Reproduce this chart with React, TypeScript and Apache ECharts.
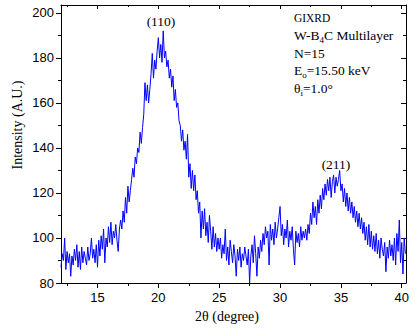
import React, { useEffect, useRef } from "react";
import * as echarts from "echarts";

// Scan definition (2θ in degrees)
const startAngle = 12.0;
const angleStep = 0.1;

// Intensity (A.U.), one value per 0.1°
const seg12to17 = [
  87, 93, 90, 100, 86, 94, 89, 93, 83, 92,
  88, 95, 90, 97, 87, 94, 86, 96, 89, 94,
  91, 88, 96, 90, 93, 100, 91, 95, 89, 97,
  87, 99, 92, 101, 95, 104, 89, 100, 96, 105,
  98, 107, 97, 103, 100, 106, 99, 94, 104, 108,
];
const seg17to22 = [
  104, 112, 107, 118, 111, 123, 116, 121, 126, 131,
  127, 136, 133, 140, 138, 147, 142, 149, 155, 169,
  161, 168, 160, 166, 173, 182, 171, 179, 175, 183,
  189, 180, 186, 178, 192, 180, 183, 176, 179, 171,
  175, 167, 172, 161, 166, 158, 160, 152, 150, 143,
];
const seg22to27 = [
  148, 139, 143, 135, 146, 127, 133, 122, 130, 121,
  128, 117, 121, 111, 116, 100, 112, 104, 113, 101,
  107, 98, 110, 103, 95, 105, 96, 102, 94, 100,
  95, 100, 91, 97, 93, 104, 90, 96, 88, 99,
  94, 89, 97, 92, 83, 95, 90, 96, 87, 93,
];
const seg27to32 = [
  90, 96, 92, 88, 95, 80, 92, 97, 89, 101,
  93, 83, 96, 91, 99, 94, 102, 97, 105, 100,
  103, 88, 106, 99, 104, 97, 107, 100, 104, 109,
  114, 101, 106, 97, 104, 100, 108, 96, 103, 99,
  105, 95, 88, 103, 98, 102, 96, 105, 99, 103,
];
const seg32to37 = [
  100, 104, 99, 106, 102, 111, 106, 116, 109, 114,
  106, 117, 111, 119, 113, 122, 117, 124, 119, 126,
  121, 127, 118, 125, 128, 120, 127, 123, 126, 130,
  121, 124, 116, 122, 114, 120, 112, 118, 111, 116,
  109, 114, 107, 112, 105, 111, 104, 109, 102, 107,
];
const seg37to40 = [
  99, 105, 97, 106, 96, 103, 95, 101, 94, 102,
  93, 99, 91, 100, 95, 92, 98, 85, 96, 91,
  99, 92, 97, 90, 100, 88, 102, 94, 108, 89,
  98, 84, 100, 93,
];

const xMin = 12;
const xMax = 40.35;
const yMin = 80;
const yMax = 203.5;
const xMajorTicks = [15, 20, 25, 30, 35, 40];
const xMinorTicks = [12.5, 17.5, 22.5, 27.5, 32.5, 37.5];
const yMajorTicks = [80, 100, 120, 140, 160, 180, 200];
const yMinorTicks = [90, 110, 130, 150, 170, 190];

const SERIF = '"Liberation Serif", "Times New Roman", serif';
const SANS = '"Liberation Sans", Arial, sans-serif';

export default function App() {
  const ref = useRef<HTMLDivElement>(null);

  useEffect(() => {
    if (!ref.current) return;
    const chart = echarts.init(ref.current, null, { renderer: "svg" });

    const intensity = [
      ...seg12to17,
      ...seg17to22,
      ...seg22to27,
      ...seg27to32,
      ...seg32to37,
      ...seg37to40,
    ];
    const data = intensity.map((v, i) => [
      Math.round((startAngle + i * angleStep) * 100) / 100,
      v,
    ]);

    const canvas = document.createElement("canvas");
    const ctx = canvas.getContext("2d")!;
    const measure = (t: string, size: number) => {
      ctx.font = `${size}px "Liberation Serif"`;
      return ctx.measureText(t).width;
    };

    const infoX = 294;
    const infoSize = 13.5;
    const subSize = 9;
    const rows = [17.5, 35.5, 53, 70.5, 88];

    const txt = (
      x: number,
      y: number,
      text: string,
      size: number,
      extra: any = {}
    ) => ({
      type: "text",
      x,
      y,
      silent: true,
      ...extra,
      style: {
        text,
        fontSize: size,
        fontFamily: SERIF,
        fill: "#000",
        align: extra.align || "left",
        verticalAlign: "middle",
      },
    });

    const withSub = (y: number, main: string, sub: string, rest: string) => {
      const w1 = measure(main, infoSize);
      const w2 = measure(sub, subSize);
      return [
        txt(infoX, y, main, infoSize),
        txt(infoX + w1, y + 4.5, sub, subSize),
        txt(infoX + w1 + w2, y, rest, infoSize),
      ];
    };

    const graphic: any[] = [
      {
        type: "text",
        x: 17,
        y: 125,
        rotation: Math.PI / 2,
        silent: true,
        style: {
          text: "Intensity (A.U.)",
          fontSize: 14,
          fontFamily: SERIF,
          fill: "#000",
          align: "center",
          verticalAlign: "middle",
        },
      },
      txt(227, 316, "2θ (degree)", 14, { align: "center" }),
      txt(161, 21, "(110)", 13.5, { align: "center" }),
      txt(336, 164, "(211)", 13.5, { align: "center" }),
      txt(infoX, rows[0], "GIXRD", infoSize, { scaleX: 0.85 }),
      ...withSub(rows[1], "W-B", "4", "C Multilayer"),
      txt(infoX, rows[2], "N=15", infoSize),
      ...withSub(rows[3], "E", "o", "=15.50 keV"),
      ...withSub(rows[4], "θ", "i", "=1.0°"),
    ];

    const lineStyle = { color: "#000", width: 1 };
    const noSplit = { show: false };

    const option: any = {
      animation: false,
      grid: { left: 61, right: 9, top: 5, bottom: 50, containLabel: false },
      xAxis: [
        {
          type: "value",
          position: "bottom",
          min: xMin,
          max: xMax,
          axisLine: { show: true, onZero: false, lineStyle },
          axisTick: {
            show: true,
            inside: false,
            length: 5,
            customValues: xMajorTicks,
            lineStyle,
          },
          axisLabel: {
            show: true,
            customValues: xMajorTicks,
            margin: 8,
            fontSize: 13,
            fontFamily: SANS,
            color: "#000",
          },
          splitLine: noSplit,
        },
        {
          type: "value",
          position: "bottom",
          min: xMin,
          max: xMax,
          axisLine: { show: false, onZero: false },
          axisTick: {
            show: true,
            inside: false,
            length: 3,
            customValues: xMinorTicks,
            lineStyle,
          },
          axisLabel: { show: false },
          splitLine: noSplit,
        },
        {
          type: "value",
          position: "top",
          min: xMin,
          max: xMax,
          axisLine: { show: true, onZero: false, lineStyle },
          axisTick: {
            show: true,
            inside: true,
            length: 4,
            customValues: xMajorTicks,
            lineStyle,
          },
          axisLabel: { show: false },
          splitLine: noSplit,
        },
        {
          type: "value",
          position: "top",
          min: xMin,
          max: xMax,
          axisLine: { show: false, onZero: false },
          axisTick: {
            show: true,
            inside: true,
            length: 2,
            customValues: xMinorTicks,
            lineStyle,
          },
          axisLabel: { show: false },
          splitLine: noSplit,
        },
      ],
      yAxis: [
        {
          type: "value",
          position: "left",
          min: yMin,
          max: yMax,
          axisLine: { show: true, onZero: false, lineStyle },
          axisTick: {
            show: true,
            inside: false,
            length: 5,
            customValues: yMajorTicks,
            lineStyle,
          },
          axisLabel: {
            show: true,
            customValues: yMajorTicks,
            margin: 7,
            fontSize: 13,
            fontFamily: SANS,
            color: "#000",
          },
          splitLine: noSplit,
        },
        {
          type: "value",
          position: "left",
          min: yMin,
          max: yMax,
          axisLine: { show: false, onZero: false },
          axisTick: {
            show: true,
            inside: false,
            length: 3,
            customValues: yMinorTicks,
            lineStyle,
          },
          axisLabel: { show: false },
          splitLine: noSplit,
        },
        {
          type: "value",
          position: "right",
          min: yMin,
          max: yMax,
          axisLine: { show: true, onZero: false, lineStyle },
          axisTick: {
            show: true,
            inside: true,
            length: 5,
            customValues: yMajorTicks,
            lineStyle,
          },
          axisLabel: { show: false },
          splitLine: noSplit,
        },
        {
          type: "value",
          position: "right",
          min: yMin,
          max: yMax,
          axisLine: { show: false, onZero: false },
          axisTick: {
            show: true,
            inside: true,
            length: 3,
            customValues: yMinorTicks,
            lineStyle,
          },
          axisLabel: { show: false },
          splitLine: noSplit,
        },
      ],
      series: [
        {
          type: "line",
          xAxisIndex: 0,
          yAxisIndex: 0,
          data,
          showSymbol: false,
          symbol: "none",
          lineStyle: { color: "#0000ff", width: 1 },
          clip: true,
          silent: true,
        },
      ],
      graphic,
    };

    chart.setOption(option);
    return () => chart.dispose();
  }, []);

  return (
    <div
      ref={ref}
      style={{ position: "absolute", left: 0, top: 0, width: 415, height: 333 }}
    />
  );
}
